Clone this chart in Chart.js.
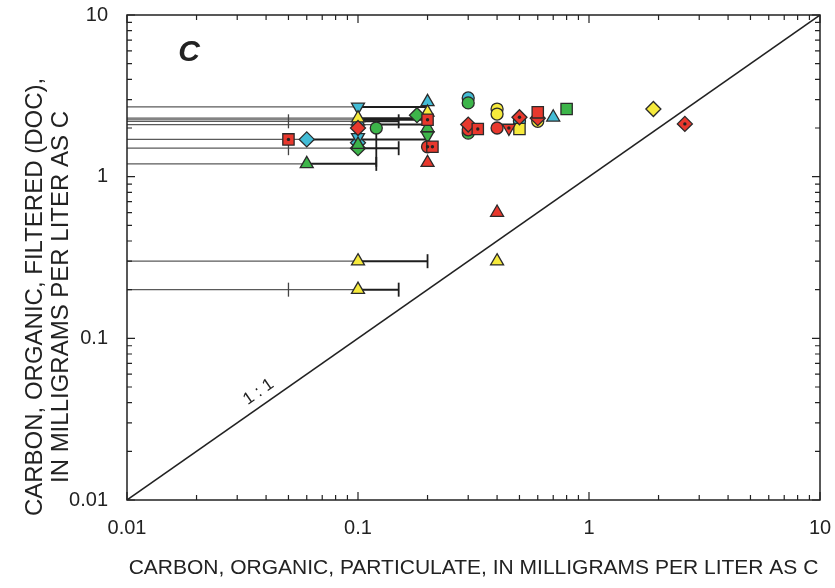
<!DOCTYPE html>
<html>
<head>
<meta charset="utf-8">
<script src="https://cdn.jsdelivr.net/npm/chart.js@4.4.1/dist/chart.umd.min.js"></script>
<style>
  html, body { margin: 0; padding: 0; background: #fff; }
  #wrap { width: 835px; height: 588px; }
</style>
</head>
<body>
<div id="wrap"><canvas id="docChart"></canvas></div>
<script>
// axis decades (labelled ticks)
const xTicks = [0.01, 0.1, 1, 10];
const yTicks = [0.01, 0.1, 1, 10];

// horizontal range bars: particulate value below reporting level
const rangeY     = [2.7, 2.3, 2.25, 2.2, 2.1, 1.7, 1.5, 1.2, 0.3, 0.2];
const rangeMarkX = [0.1, 0.1, 0.1, 0.1, 0.12, 0.06, 0.1, 0.06, 0.1, 0.1];
const rangeEndX  = [0.2, 0.2, 0.2, 0.15, 0.2, 0.2, 0.15, 0.12, 0.2, 0.15];
const capX = [0.15, 0.15, 0.12, 0.2, 0.15];
const capY = [2.2, 1.5, 1.2, 0.3, 0.2];
const lowTickX = [0.05, 0.05, 0.05];
const lowTickY = [2.2, 1.5, 0.2];
const stemX = [0.12, 0.12];
const stemY = [2.0, 1.15];

// samples, grouped by symbol
const redSquare     = [[0.05, 1.7], [0.2, 2.25], [0.21, 1.53], [0.33, 1.97], [0.6, 2.5]];
const redDiamond    = [[0.1, 2.0], [0.3, 2.1], [0.5, 2.33], [0.6, 2.3], [2.6, 2.12]];
const redCircle     = [[0.2, 1.53], [0.3, 1.95], [0.4, 2.0]];
const redTriangle   = [[0.2, 1.22], [0.4, 0.6]];
const redTriDown    = [[0.45, 2.0]];
const greenTriangle = [[0.06, 1.2], [0.1, 1.58], [0.2, 2.0]];
const greenTriDown  = [[0.2, 1.8]];
const greenDiamond  = [[0.1, 1.5], [0.18, 2.4]];
const greenCircle   = [[0.12, 2.0], [0.3, 2.86], [0.3, 1.86]];
const greenSquare   = [[0.8, 2.62]];
const yellowTriangle = [[0.1, 2.3], [0.2, 2.5], [0.1, 0.3], [0.1, 0.2], [0.4, 0.3]];
const yellowCircle  = [[0.4, 2.62], [0.4, 2.44], [0.6, 2.2]];
const yellowSquare  = [[0.5, 1.97]];
const yellowDiamond = [[1.9, 2.62]];
const cyanTriangle  = [[0.1, 2.2], [0.2, 2.9], [0.7, 2.33]];
const cyanTriDown   = [[0.1, 2.7], [0.1, 1.75]];
const cyanDiamond   = [[0.06, 1.7], [0.1, 1.62]];
const cyanCircle    = [[0.3, 3.07], [0.5, 2.2]];
const centerDots    = [[0.05, 1.7], [0.2, 2.25], [0.2, 1.53], [0.21, 1.53], [0.33, 1.97],
                       [0.45, 2.0], [0.5, 2.33], [2.6, 2.12]];

const RED = '#e8382d', GREEN = '#3db54a', YELLOW = '#f6ea3c', CYAN = '#43bcd6';
const EDGE = '#2a2a2a';
const SANS = '"Liberation Sans", Arial, sans-serif';
const radii = { circle: 6, triangle: 7.5, rect: 8, rectRot: 7.5 };

const pts = arr => arr.map(p => ({ x: p[0], y: p[1] }));

function markerSet(arr, fill, style, rotation) {
  return {
    type: 'scatter', data: pts(arr), order: 1,
    pointStyle: style, rotation: rotation || 0,
    pointRadius: radii[style], pointHoverRadius: radii[style],
    backgroundColor: fill, borderColor: EDGE, borderWidth: 1.3
  };
}

function lineSet(data, color, width) {
  return {
    type: 'line', data: data, order: 3, showLine: true,
    borderColor: color, borderWidth: width, pointRadius: 0, fill: false
  };
}

const datasets = [];

// center dots on top
datasets.push({
  type: 'scatter', data: pts(centerDots), order: 0,
  pointStyle: 'circle', pointRadius: 1.7, backgroundColor: '#222', borderWidth: 0
});

datasets.push(
  markerSet(redSquare, RED, 'rect'),
  markerSet(redDiamond, RED, 'rectRot'),
  markerSet(redCircle, RED, 'circle'),
  markerSet(redTriangle, RED, 'triangle'),
  markerSet(redTriDown, RED, 'triangle', 180),
  markerSet(greenTriangle, GREEN, 'triangle'),
  markerSet(greenTriDown, GREEN, 'triangle', 180),
  markerSet(greenDiamond, GREEN, 'rectRot'),
  markerSet(greenCircle, GREEN, 'circle'),
  markerSet(greenSquare, GREEN, 'rect'),
  markerSet(yellowTriangle, YELLOW, 'triangle'),
  markerSet(yellowCircle, YELLOW, 'circle'),
  markerSet(yellowSquare, YELLOW, 'rect'),
  markerSet(yellowDiamond, YELLOW, 'rectRot'),
  markerSet(cyanTriangle, CYAN, 'triangle'),
  markerSet(cyanTriDown, CYAN, 'triangle', 180),
  markerSet(cyanDiamond, CYAN, 'rectRot'),
  markerSet(cyanCircle, CYAN, 'circle')
);

// range bars: thin from the axis to the symbol, heavy from symbol to upper end
rangeY.forEach((yv, i) => {
  datasets.push(lineSet([{ x: 0.01, y: yv }, { x: rangeMarkX[i], y: yv }], '#5a5a5a', 1.2));
  datasets.push(lineSet([{ x: rangeMarkX[i], y: yv }, { x: rangeEndX[i], y: yv }], '#1e1e1e', 2));
});
datasets.push(lineSet(stemX.map((xv, i) => ({ x: xv, y: stemY[i] })), '#1e1e1e', 1.8));

// end caps and lower ticks drawn as vertical line symbols
datasets.push({
  type: 'scatter', order: 2, data: capX.map((xv, i) => ({ x: xv, y: capY[i] })),
  pointStyle: 'line', rotation: 90, pointRadius: 7, borderColor: '#1e1e1e', borderWidth: 1.8
});
datasets.push({
  type: 'scatter', order: 2, data: lowTickX.map((xv, i) => ({ x: xv, y: lowTickY[i] })),
  pointStyle: 'line', rotation: 90, pointRadius: 7, borderColor: '#444', borderWidth: 1.3
});

// 1:1 line
datasets.push(lineSet([{ x: 0.01, y: 0.01 }, { x: 10, y: 10 }], '#222', 1.5));

const isDecade = v => Math.abs(Math.log10(v) - Math.round(Math.log10(v))) < 1e-9;

// frame with inward log ticks, panel letter, 1:1 label and the y title
const decorPlugin = {
  id: 'decor',
  afterDatasetsDraw(chart) {
    const { ctx, chartArea: a, scales: { x, y } } = chart;
    ctx.save();
    ctx.strokeStyle = '#222';
    ctx.lineWidth = 1.5;
    ctx.strokeRect(a.left, a.top, a.right - a.left, a.bottom - a.top);

    ctx.lineWidth = 1.2;
    ctx.beginPath();
    for (let e = -2; e < 1; e++) {
      for (let m = 1; m <= 10; m++) {
        const v = m * Math.pow(10, e);
        const len = isDecade(v) ? 8 : 5;
        const px = x.getPixelForValue(v);
        ctx.moveTo(px, a.bottom); ctx.lineTo(px, a.bottom - len);
        ctx.moveTo(px, a.top); ctx.lineTo(px, a.top + len);
        const py = y.getPixelForValue(v);
        ctx.moveTo(a.left, py); ctx.lineTo(a.left + len, py);
        ctx.moveTo(a.right, py); ctx.lineTo(a.right - len, py);
      }
    }
    ctx.stroke();

    // panel letter
    ctx.fillStyle = '#222';
    ctx.font = 'italic bold 30px ' + SANS;
    ctx.textAlign = 'center';
    ctx.textBaseline = 'middle';
    ctx.fillText('C', a.left + 62, a.top + 38);

    // 1:1 label along the line
    const x0 = x.getPixelForValue(0.04), y0 = y.getPixelForValue(0.04);
    const ang = Math.atan2(y.getPixelForValue(10) - y.getPixelForValue(0.01),
                           x.getPixelForValue(10) - x.getPixelForValue(0.01));
    ctx.save();
    ctx.translate(x0, y0);
    ctx.rotate(ang);
    ctx.font = '17px ' + SANS;
    ctx.fillText('1 : 1', 0, -13);
    ctx.restore();

    // y axis title, two lines
    ctx.save();
    ctx.translate(0, 297);
    ctx.rotate(-Math.PI / 2);
    ctx.font = '24px ' + SANS;
    ctx.fillText('CARBON, ORGANIC, FILTERED (DOC),', 0, 35);
    ctx.fillText('IN MILLIGRAMS PER LITER AS C', 0, 61);
    ctx.restore();
    ctx.restore();
  }
};

new Chart(document.getElementById('docChart'), {
  type: 'scatter',
  data: { datasets: datasets },
  options: {
    responsive: true,
    maintainAspectRatio: false,
    animation: false,
    layout: { padding: 0 },
    plugins: { legend: { display: false }, tooltip: { enabled: false } },
    scales: {
      x: {
        type: 'logarithmic', min: 0.01, max: 10,
        afterBuildTicks: s => { s.ticks = xTicks.map(v => ({ value: v })); },
        afterFit: s => { s.height = 88; s.paddingLeft = 10; s.paddingRight = 15; },
        grid: { display: false, drawTicks: false },
        border: { display: false },
        ticks: {
          autoSkip: false, maxRotation: 0, padding: 16, color: '#222',
          font: { family: SANS, size: 20 },
          callback: v => String(v)
        },
        title: {
          display: true, color: '#222',
          text: 'CARBON, ORGANIC, PARTICULATE, IN MILLIGRAMS PER LITER AS C',
          font: { family: SANS, size: 21 },
          padding: { top: 0, bottom: 7 }
        }
      },
      y: {
        type: 'logarithmic', min: 0.01, max: 10,
        afterBuildTicks: s => { s.ticks = yTicks.map(v => ({ value: v })); },
        afterFit: s => { s.width = 127; s.paddingTop = 15; s.paddingBottom = 10; },
        grid: { display: false, drawTicks: false },
        border: { display: false },
        ticks: {
          autoSkip: false, padding: 19, color: '#222',
          font: { family: SANS, size: 20 },
          callback: v => String(v)
        },
        title: { display: false }
      }
    }
  },
  plugins: [decorPlugin]
});
</script>
</body>
</html>
